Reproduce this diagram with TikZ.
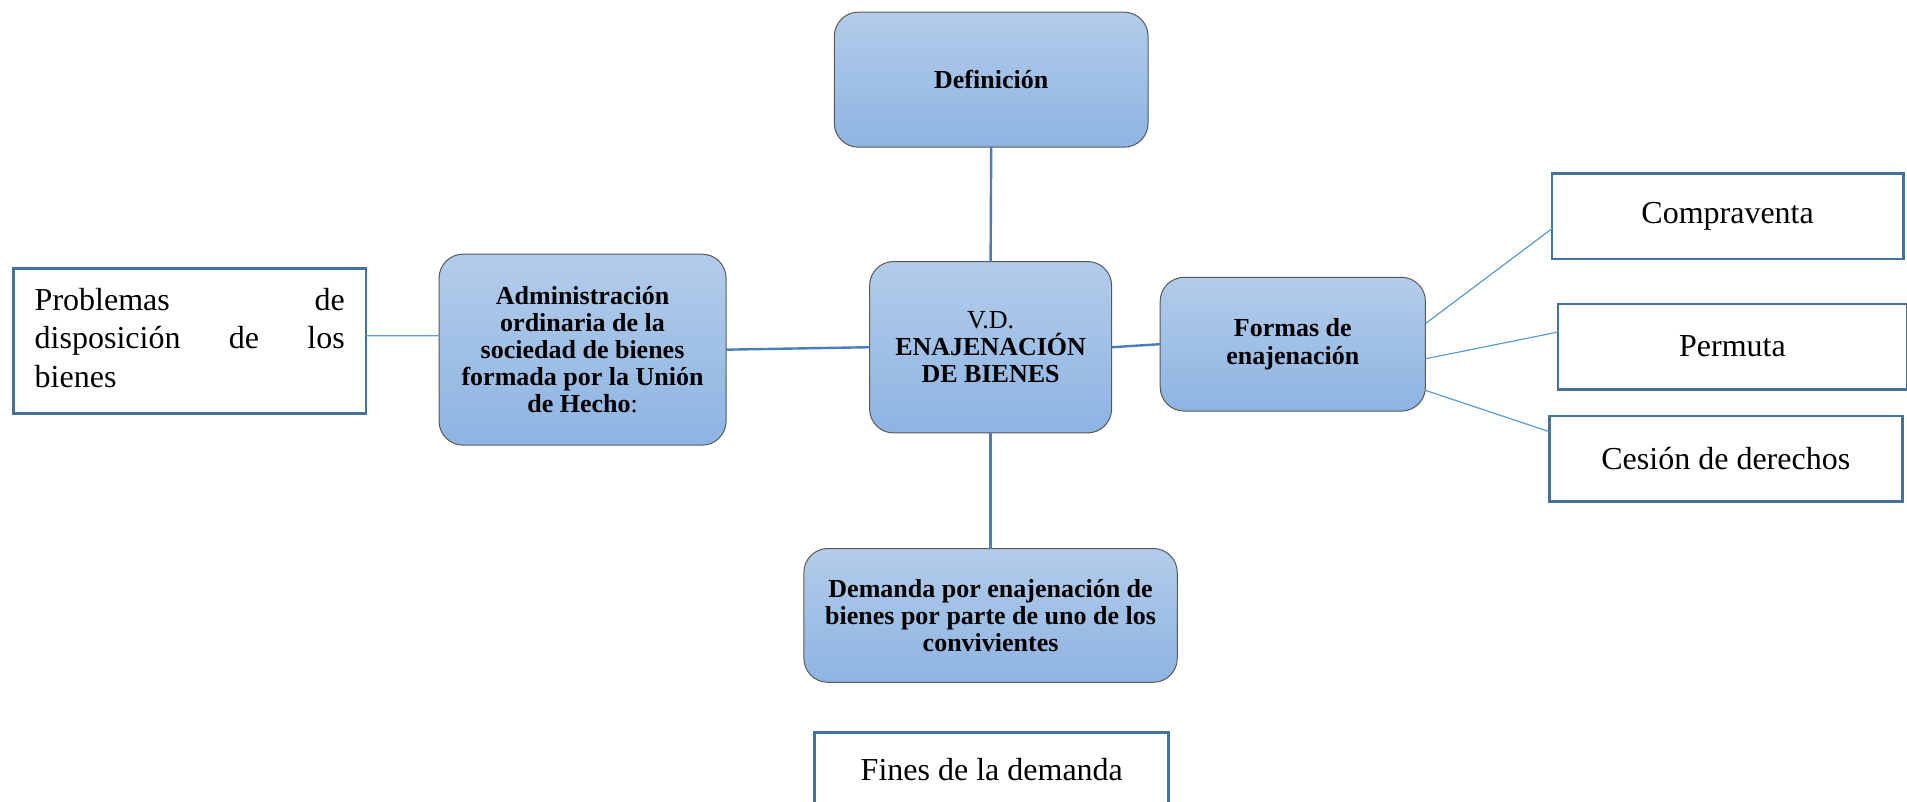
\documentclass[tikz,border=0pt]{standalone}
\usepackage{fontspec}
\setmainfont{Liberation Serif}
\definecolor{bluetop}{HTML}{B3CCEA}
\definecolor{bluebot}{HTML}{8DB4E2}
\definecolor{linkblue}{HTML}{4A7EBB}
\definecolor{thinblue}{HTML}{5B9BD5}
\definecolor{boxedge}{HTML}{41719C}
\begin{document}
\begin{tikzpicture}[x=0.6081pt,y=-0.6081pt,
  rbox/.style={rounded corners=12pt, draw=black!65, line width=0.5pt,
    top color=bluetop, bottom color=bluebot, align=center,
    font=\fontsize{13}{13.6}\selectfont\bfseries, inner sep=2pt, outer sep=0pt},
  wbox/.style={draw=boxedge, line width=1.4pt, fill=white, align=center,
    font=\fontsize{16}{19.2}\selectfont, inner sep=2pt, outer sep=0pt},
  mainlink/.style={draw=linkblue, line width=1.2pt},
  thinlink/.style={draw=thinblue, line width=0.6pt}]
\useasboundingbox (0,0) rectangle (1568,659);

\node[rbox, minimum width=156.9pt, minimum height=67.5pt] (def) at (815,65.5) {Definición};
\node[rbox, minimum width=121pt, minimum height=85.7pt] (cen) at (814.5,285.5)
  {\mdseries V.D.\\ ENAJENACIÓN\\ DE BIENES};
\node[rbox, minimum width=143.5pt, minimum height=95.5pt] (adm) at (479,287.5)
  {Administración\\ ordinaria de la\\ sociedad de bienes\\ formada por la Unión\\ de Hecho{\mdseries:}};
\node[rbox, minimum width=132.6pt, minimum height=66.9pt] (form) at (1063,283)
  {Formas de\\ enajenación};
\node[rbox, minimum width=186.7pt, minimum height=66.9pt] (dem) at (814.5,506)
  {Demanda por enajenación de\\ bienes por parte de uno de los\\ convivientes};

\node[wbox, minimum width=176.3pt, minimum height=72.4pt, text width=155pt, align=left] (prob) at (156,280.5)
  {Problemas\hfill de\\ disposición\hfill de\hfill los\\ bienes\vphantom{p}\\[2pt]};
\node[wbox, minimum width=175.7pt, minimum height=42.6pt] (comp) at (1420.5,178) {Compraventa};
\node[wbox, minimum width=174.5pt, minimum height=42.6pt] (perm) at (1424.5,285) {Permuta};
\node[wbox, minimum width=176.3pt, minimum height=42.6pt] (ces) at (1419,377) {Cesión de derechos};
\node[wbox, minimum width=177pt, minimum height=37.7pt] (fin) at (815.5,633) {Fines de la demanda};

\draw[mainlink] (def.south) -- (cen.north);
\draw[mainlink] (cen.south) -- (dem.north);
\draw[mainlink] (adm.east) -- (cen.west);
\draw[mainlink] (cen.east) -- (form.west);
\draw[thinlink] ([yshift=2.7pt]prob.east) -- ([yshift=7pt]adm.west);
\draw[thinlink] ([yshift=10.3pt]form.east) -- ([yshift=-6.1pt]comp.west);
\draw[thinlink] ([yshift=-7.3pt]form.east) -- ([yshift=7.3pt]perm.west);
\draw[thinlink] ([yshift=-23.1pt]form.east) -- ([yshift=13.4pt]ces.west);
\end{tikzpicture}
\end{document}
